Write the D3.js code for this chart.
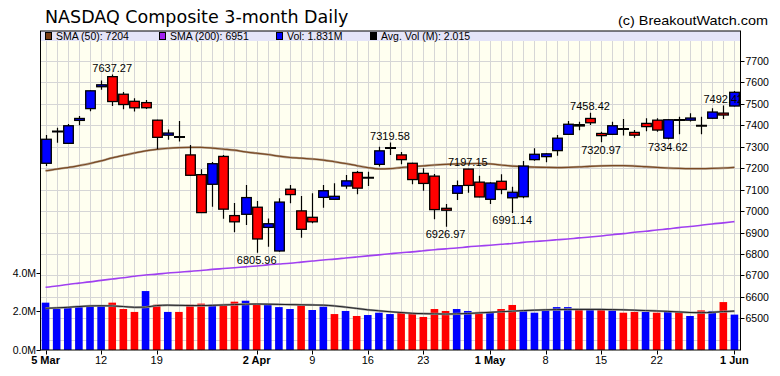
<!DOCTYPE html>
<html><head><meta charset="utf-8">
<script src="https://cdn.jsdelivr.net/npm/d3@7"></script>
<style>body{margin:0;background:#fff}svg{display:block}</style>
</head><body>
<svg id="c" width="780" height="376"></svg>
<script>
const dates = ["2018-03-05","2018-03-06","2018-03-07","2018-03-08","2018-03-09","2018-03-12","2018-03-13","2018-03-14","2018-03-15","2018-03-16","2018-03-19","2018-03-20","2018-03-21","2018-03-22","2018-03-23","2018-03-26","2018-03-27","2018-03-28","2018-03-29",
"2018-04-02","2018-04-03","2018-04-04","2018-04-05","2018-04-06","2018-04-09","2018-04-10","2018-04-11","2018-04-12","2018-04-13","2018-04-16","2018-04-17","2018-04-18","2018-04-19","2018-04-20","2018-04-23","2018-04-24","2018-04-25","2018-04-26","2018-04-27","2018-04-30",
"2018-05-01","2018-05-02","2018-05-03","2018-05-04","2018-05-07","2018-05-08","2018-05-09","2018-05-10","2018-05-11","2018-05-14","2018-05-15","2018-05-16","2018-05-17","2018-05-18","2018-05-21","2018-05-22","2018-05-23","2018-05-24","2018-05-25","2018-05-29","2018-05-30","2018-05-31","2018-06-01"];
const open  = [7223,7371,7316,7423,7478,7580,7627,7545,7512,7506,7424,7354,7347,7262,7170,7125,7255,6979,6985,7018,6924,6814,7102,7001,6971,7064,7055,7117,7180,7155,7218,7294,7262,7223,7176,7163,7013,7083,7196,7135,7055,7139,7062,7067,7240,7254,7282,7358,7397,7432,7362,7358,7384,7367,7409,7424,7340,7425,7424,7398,7433,7457,7490];
const high  = [7355,7389,7406,7444,7563,7609,7637.27,7555,7526,7518,7426,7381,7420,7308,7195,7229,7262,7038,7122,7047,6966,7060,7122,7070,7083,7122,7130,7168,7187,7184,7300,7319.58,7276,7226,7200,7173,7033,7143,7197.15,7165,7135,7172,7114,7234,7293,7270,7355,7420,7417,7458.42,7370,7417,7430,7378,7433,7433,7428,7440,7456,7440,7480,7492.42,7560];
const low   = [7210,7319,7313,7400,7466,7566,7490,7475,7465,7476,7288,7333,7325,7165,6992,7020,6964,6901,6935,6805.96,6834,6810,7037,6876,6943,7016,7053,7104,7078,7117,7208,7262,7218,7125,7095,6962,6926.97,7052,7086,7065,7033,7078,6991.14,7060,7235,7228,7258,7355,7377,7401,7320.97,7355,7352,7342,7372,7370,7334.62,7358,7418,7358,7431,7430,7488];
const close = [7335,7372,7398,7432,7561,7589,7511,7497,7481.7,7482,7344,7364,7345,7167,6993,7221,7009,6950,7063,6870,6941,7042,7077,6915,6950,7095,7069,7141,7107,7156,7281,7295,7240,7147,7129,7007,7004,7118.7,7119.8,7066,7131,7101,7088,7210,7265,7267,7340,7405,7403,7412,7352,7398,7382,7354,7394,7378,7426,7424,7434,7397,7462,7448,7554];
const prevClose = 7257.87;
const volume = [2.45,2.12,2.19,2.28,2.28,2.28,2.45,2.12,1.97,3.05,2.34,1.97,1.97,2.34,2.40,2.34,2.34,2.50,2.55,2.40,2.38,2.22,2.12,2.34,2.07,2.24,1.86,2.02,1.76,1.81,1.93,1.86,1.97,1.91,1.71,2.12,2.02,2.12,2.02,1.97,1.93,2.12,2.33,2.05,1.93,2.05,2.22,2.22,2.09,2.09,2.12,2.05,1.93,1.97,1.97,1.93,1.97,1.97,1.76,2.05,2.02,2.48,1.831];
const avgVol = [2.16,2.18,2.21,2.25,2.28,2.29,2.28,2.25,2.21,2.22,2.30,2.32,2.31,2.30,2.30,2.31,2.33,2.35,2.37,2.38,2.37,2.36,2.35,2.34,2.33,2.32,2.28,2.22,2.15,2.08,2.03,1.98,1.94,1.90,1.88,1.87,1.86,1.87,1.89,1.92,1.95,1.98,2.01,2.04,2.06,2.08,2.09,2.10,2.10,2.10,2.10,2.09,2.08,2.06,2.04,2.02,2.00,1.97,1.94,1.93,1.95,1.99,2.015];
const sma50 = [7188,7196,7203,7212,7222,7234,7248,7260,7271,7281,7288,7293,7296,7297,7297,7294,7289,7284,7276,7270,7264,7256,7250,7247,7243,7238,7230,7222,7212,7203,7197,7198,7203,7207,7211,7215,7218,7220,7221,7222,7220,7215,7210,7207,7205,7204,7203,7204,7206,7209,7211,7212,7212,7210,7207,7204,7201,7199,7198,7198,7199,7201,7204];
const sma200 = [6645,6651,6658,6664,6670,6677,6683,6689,6696,6702,6706,6711,6715,6719,6723,6728,6732,6736,6740,6744,6749,6753,6757,6762,6767,6772,6776,6781,6786,6791,6796,6801,6806,6810,6815,6820,6824,6828,6833,6837,6841,6845,6849,6854,6858,6862,6866,6870,6875,6879,6884,6890,6895,6901,6906,6912,6917,6923,6928,6934,6940,6945,6951];
const priceTicks = [6500,6600,6700,6800,6900,7000,7100,7200,7300,7400,7500,7600,7700];
const gridPrices = [6400,6500,6600,6700,6800,6900,7000,7100,7200,7300,7400,7500,7600,7700,7800];
const volTicks = [0,2,4];
const volTickLabels = ["0.0M","2.0M","4.0M"];
const xTickDates = ["2018-03-05","2018-03-12","2018-03-19","2018-04-02","2018-04-09","2018-04-16","2018-04-23","2018-05-01","2018-05-08","2018-05-15","2018-05-22","2018-06-01"];
const xTickLabels = ["5 Mar","12","19","2 Apr","9","16","23","1 May","8","15","22","1 Jun"];
const noteDates = ["2018-03-13","2018-04-02","2018-04-18","2018-04-25","2018-04-27","2018-05-03","2018-05-14","2018-05-15","2018-05-23","2018-05-31"];
const noteSides = ["high","low","high","low","high","low","high","low","low","high"];
const legendLabels = ["SMA (50): 7204","SMA (200): 6951","Vol: 1.831M","Avg. Vol (M): 2.015"];
const legendColors = ["#7a3c12","#a020f0","#0000ff","#000000"];
const titleText = "NASDAQ Composite 3-month Daily";
const creditText = "(c) BreakoutWatch.com";

const L = 40.5, R = 740.5, T = 31, B = 350.5, LEG = 41;
const svg = d3.select("#c");
const FONT = "'Liberation Sans', Arial, sans-serif";
const NARROW = "'Liberation Sans Narrow','Liberation Sans', Arial, sans-serif";

const x = d3.scaleBand().domain(dates).range([L - 0.5, R - 0.5]);
const xc = d => x(d) + x.bandwidth() / 2;
const y = d3.scaleLinear().domain([6500, 7700]).range([318.3, 61]);
const yv = d3.scaleLinear().domain([0, 4]).range([350, 272.7]);

svg.append("defs").append("clipPath").attr("id", "pc")
  .append("rect").attr("x", L).attr("y", LEG).attr("width", R - L).attr("height", B - LEG);

// title & credit
svg.append("text").attr("x", 45).attr("y", 23).attr("font-family", "'DejaVu Sans', Verdana, sans-serif")
  .attr("font-size", 17.5).attr("fill", "#000").text(titleText);
svg.append("text").attr("x", 768).attr("y", 25).attr("text-anchor", "end").attr("font-family", NARROW)
  .attr("font-size", 13.5).attr("textLength", 150).attr("lengthAdjust", "spacingAndGlyphs")
  .attr("fill", "#000").text(creditText);

// plot background
svg.append("rect").attr("x", L).attr("y", T).attr("width", R - L).attr("height", B - T).attr("fill", "#fffff0");

const g = svg.append("g").attr("clip-path", "url(#pc)");
// grid
g.selectAll(".vg").data(dates).join("line")
  .attr("x1", d => Math.round(xc(d)) + 0.5).attr("x2", d => Math.round(xc(d)) + 0.5)
  .attr("y1", LEG).attr("y2", B).attr("stroke", "#d6d6d6").attr("stroke-width", 1);
g.selectAll(".hg").data(gridPrices).join("line")
  .attr("x1", L).attr("x2", R).attr("y1", d => Math.round(y(d)) + 0.5).attr("y2", d => Math.round(y(d)) + 0.5)
  .attr("stroke", "#d6d6d6").attr("stroke-width", 1);

// volume bars
const volColor = (i) => (close[i] >= (i === 0 ? prevClose : close[i - 1])) ? "#0000ff" : "#ff0000";
g.selectAll(".vb").data(dates).join("rect")
  .attr("x", d => xc(d) - 3.8).attr("width", 7.6)
  .attr("y", (d, i) => yv(volume[i])).attr("height", (d, i) => yv(0) - yv(volume[i]))
  .attr("fill", (d, i) => volColor(i));
// avg volume line
const avgLine = d3.line().x((d, i) => xc(dates[i])).y(d => yv(d)).curve(d3.curveMonotoneX);
g.append("path").datum(avgVol).attr("d", avgLine).attr("fill", "none").attr("stroke", "#9a9a9a").attr("stroke-width", 2.2);
g.append("path").datum(avgVol).attr("d", avgLine).attr("fill", "none").attr("stroke", "#222").attr("stroke-width", 1);

// SMA lines
const pLine = d3.line().x((d, i) => xc(dates[i])).y(d => y(d)).curve(d3.curveMonotoneX);
g.append("path").datum(sma50).attr("d", pLine).attr("fill", "none").attr("stroke", "#b8a898").attr("stroke-width", 2.4);
g.append("path").datum(sma50).attr("d", pLine).attr("fill", "none").attr("stroke", "#7a4a22").attr("stroke-width", 1.2);
g.append("path").datum(sma200).attr("d", pLine).attr("fill", "none").attr("stroke", "#a040f0").attr("stroke-width", 1.6);

// candles
const cg = g.selectAll(".cd").data(dates).join("g");
cg.append("line").attr("x1", d => Math.round(xc(d)) + 0.5).attr("x2", d => Math.round(xc(d)) + 0.5)
  .attr("y1", (d, i) => y(high[i])).attr("y2", (d, i) => y(low[i]))
  .attr("stroke", "#000").attr("stroke-width", 1.2);
cg.each(function (d, i) {
  const sel = d3.select(this);
  const cx = Math.round(xc(d)) + 0.5;
  const top = y(Math.max(open[i], close[i])), bot = y(Math.min(open[i], close[i]));
  if (bot - top < 1) {
    sel.append("line").attr("x1", cx - 5.5).attr("x2", cx + 5.5).attr("y1", (top + bot) / 2).attr("y2", (top + bot) / 2)
      .attr("stroke", "#000").attr("stroke-width", 2);
  } else {
    sel.append("rect").attr("x", cx - 4.8).attr("width", 9.6).attr("y", top).attr("height", bot - top)
      .attr("fill", close[i] > open[i] ? "#0000ff" : "#ff0000").attr("stroke", "#000").attr("stroke-width", 1.3);
  }
});

// annotations
g.selectAll(".nt").data(noteDates).join("text")
  .attr("x", d => xc(d)).attr("text-anchor", "middle")
  .attr("y", (d, k) => {
    const i = dates.indexOf(d);
    return noteSides[k] === "high" ? y(high[i]) - 2.5 : y(low[i]) + 11.5;
  })
  .attr("font-family", FONT).attr("font-size", 11).attr("fill", "#000")
  .text((d, k) => { const i = dates.indexOf(d); return (noteSides[k] === "high" ? high[i] : low[i]).toFixed(2); });

// legend band
svg.append("rect").attr("x", L).attr("y", T).attr("width", R - L).attr("height", LEG - T).attr("fill", "#e4e4f8");
const legX = [45, 159, 276, 370];
legendLabels.forEach((t, k) => {
  svg.append("rect").attr("x", legX[k] + 0.5).attr("y", 32.5).attr("width", 6).attr("height", 7)
    .attr("fill", legendColors[k]).attr("stroke", "#000").attr("stroke-width", 1);
  svg.append("text").attr("x", legX[k] + 11).attr("y", 39.5).attr("font-family", NARROW)
    .attr("font-size", 10.5).attr("fill", "#000").text(t);
});

// frame / axes
svg.append("rect").attr("x", L).attr("y", T).attr("width", R - L).attr("height", B - T - 0.5)
  .attr("fill", "none").attr("stroke", "#000").attr("stroke-width", 1);

// right price axis
const ra = svg.append("g");
ra.selectAll("line").data(priceTicks).join("line")
  .attr("x1", R).attr("x2", R + 4).attr("y1", d => Math.round(y(d)) + 0.5).attr("y2", d => Math.round(y(d)) + 0.5)
  .attr("stroke", "#000");
ra.selectAll("text").data(priceTicks).join("text")
  .attr("x", R + 5).attr("y", d => y(d) + 4).attr("font-family", FONT).attr("font-size", 10.5).attr("fill", "#000")
  .text(d => d);

// left volume axis
const la = svg.append("g");
la.selectAll("line").data(volTicks).join("line")
  .attr("x1", L - 4).attr("x2", L).attr("y1", d => Math.round(yv(d)) + 0.5).attr("y2", d => Math.round(yv(d)) + 0.5)
  .attr("stroke", "#000");
la.selectAll("text").data(volTicks).join("text")
  .attr("x", L - 4.5).attr("y", d => yv(d) + 4).attr("text-anchor", "end").attr("font-family", FONT)
  .attr("font-size", 10.5).attr("fill", "#000").text((d, k) => volTickLabels[k]);

// bottom date axis
const ba = svg.append("g");
ba.selectAll("line").data(xTickDates).join("line")
  .attr("x1", d => Math.round(xc(d)) + 0.5).attr("x2", d => Math.round(xc(d)) + 0.5)
  .attr("y1", B).attr("y2", B + 4).attr("stroke", "#000");
ba.selectAll("text").data(xTickDates).join("text")
  .attr("x", d => xc(d)).attr("y", 364).attr("text-anchor", "middle").attr("font-family", FONT)
  .attr("font-size", 11).attr("font-weight", (d, k) => /[A-Za-z]/.test(xTickLabels[k]) ? "bold" : "normal")
  .attr("fill", "#000").text((d, k) => xTickLabels[k]);
</script>
</body></html>
